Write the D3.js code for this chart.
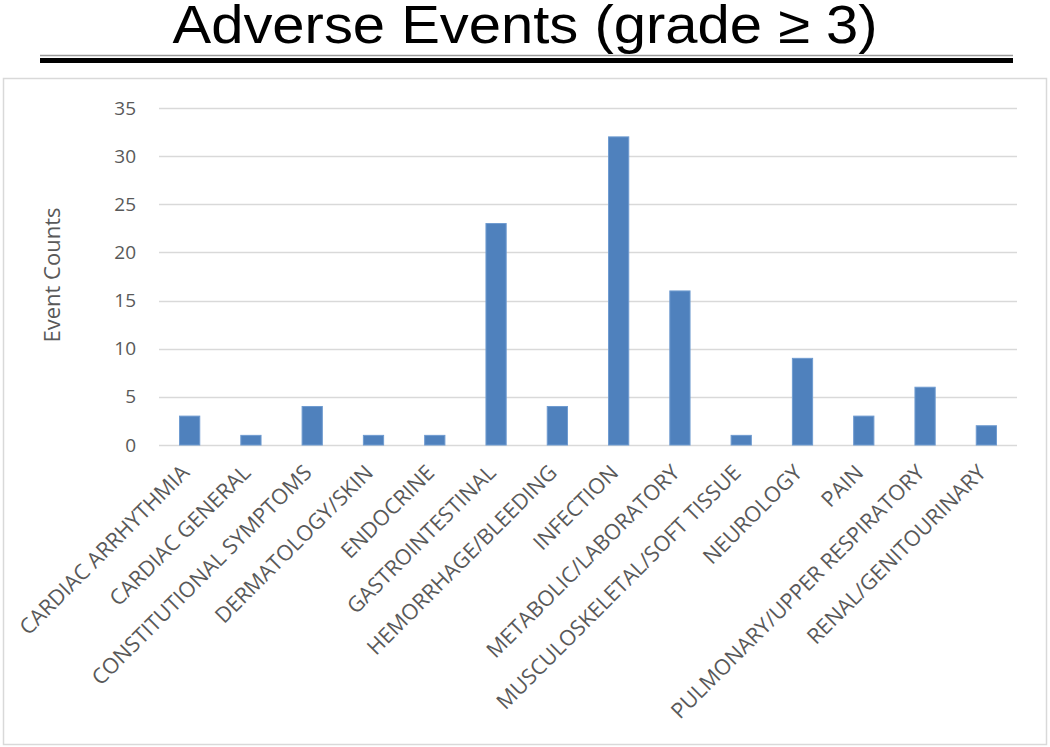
<!DOCTYPE html>
<html>
<head>
    <title>Adverse Events (grade &ge; 3)</title>
    <script src="https://d3js.org/d3.v7.min.js"></script>
    <style>
        body { margin: 0; background: #ffffff; }
    </style>
</head>
<body>
<svg id="chart"></svg>

<script>
// data
var categories = ["CARDIAC ARRHYTHMIA", "CARDIAC GENERAL", "CONSTITUTIONAL SYMPTOMS",
    "DERMATOLOGY/SKIN", "ENDOCRINE", "GASTROINTESTINAL", "HEMORRHAGE/BLEEDING",
    "INFECTION", "METABOLIC/LABORATORY", "MUSCULOSKELETAL/SOFT TISSUE", "NEUROLOGY",
    "PAIN", "PULMONARY/UPPER RESPIRATORY", "RENAL/GENITOURINARY"];
var eventCounts = [3, 1, 4, 1, 1, 23, 4, 32, 16, 1, 9, 3, 6, 2];
var yTicks = [0, 5, 10, 15, 20, 25, 30, 35];

var W = 1050, H = 747;
var plot = {left: 159, right: 1017, top: 108, bottom: 445};

var svg = d3.select("#chart")
            .attr("width", W)
            .attr("height", H);

// title + double rule
svg.append("text")
   .attr("x", 525)
   .attr("y", 43)
   .attr("text-anchor", "middle")
   .attr("textLength", 705)
   .attr("lengthAdjust", "spacingAndGlyphs")
   .style("font-family", "'Liberation Sans', Arial, sans-serif")
   .style("font-size", "53px")
   .style("fill", "#000")
   .text("Adverse Events (grade \u2265 3)");

svg.append("line")
   .attr("x1", 40).attr("x2", 1013)
   .attr("y1", 55.5).attr("y2", 55.5)
   .attr("stroke", "#9a9a9a")
   .attr("stroke-width", 1.5);
svg.append("line")
   .attr("x1", 40).attr("x2", 1013)
   .attr("y1", 60.5).attr("y2", 60.5)
   .attr("stroke", "#000")
   .attr("stroke-width", 5);

// chart frame
svg.append("rect")
   .attr("x", 3.5).attr("y", 78.5)
   .attr("width", 1043).attr("height", 666)
   .attr("fill", "#fff")
   .attr("stroke", "#d9d9d9")
   .attr("stroke-width", 1.5);

var xScale = d3.scaleBand()
               .domain(categories)
               .range([plot.left, plot.right])
               .paddingInner(0.67)
               .paddingOuter(0.335);
var yScale = d3.scaleLinear()
               .domain([0, 35])
               .range([plot.bottom, plot.top]);

// gridlines
svg.append("g")
   .selectAll("line")
   .data(yTicks)
   .enter().append("line")
   .attr("x1", plot.left)
   .attr("x2", plot.right)
   .attr("y1", function(d) { return Math.round(yScale(d)) + 0.5; })
   .attr("y2", function(d) { return Math.round(yScale(d)) + 0.5; })
   .attr("stroke", "#d9d9d9")
   .attr("stroke-width", 1.5);

// y axis labels
var yAxis = svg.append("g")
   .attr("transform", "translate(" + (plot.left - 23) + ",0)")
   .call(d3.axisLeft(yScale).tickValues(yTicks).tickSize(0).tickPadding(0));
yAxis.select(".domain").remove();
yAxis.selectAll("text")
     .style("font-family", "'Open Sans', sans-serif")
     .style("font-size", "19px")
     .style("fill", "#595959");

svg.append("text")
   .attr("transform", "translate(60,275) rotate(-90)")
   .attr("text-anchor", "middle")
   .style("font-family", "'Open Sans', sans-serif")
   .style("font-size", "22px")
   .style("fill", "#595959")
   .text("Event Counts");

// bars
svg.append("g")
   .selectAll("rect")
   .data(eventCounts)
   .enter().append("rect")
   .attr("x", function(d, i) { return xScale(categories[i]); })
   .attr("y", function(d) { return yScale(d); })
   .attr("width", xScale.bandwidth())
   .attr("height", function(d) { return yScale(0) - yScale(d); })
   .attr("fill", "#4f81bd")
   .attr("stroke", "#6f9bd0")
   .attr("stroke-width", 1);

// category labels, rotated
svg.append("g")
   .selectAll("text")
   .data(categories)
   .enter().append("text")
   .attr("transform", function(d) {
       var cx = xScale(d) + xScale.bandwidth() / 2;
       return "translate(" + (cx + 1) + ",474) rotate(-45)";
   })
   .attr("text-anchor", "end")
   .style("font-family", "'Open Sans', sans-serif")
   .style("font-size", "21.5px")
   .style("fill", "#595959")
   .text(function(d) { return d; });
</script>
</body>
</html>
